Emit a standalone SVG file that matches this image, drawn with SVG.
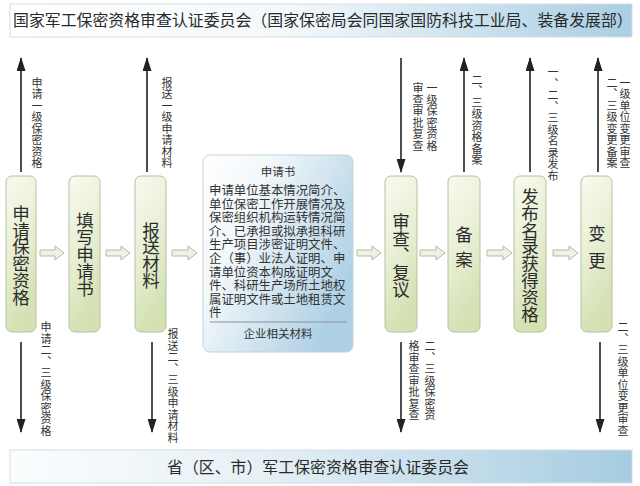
<svg xmlns="http://www.w3.org/2000/svg" width="640" height="486" viewBox="0 0 640 486">
<defs>
  <linearGradient id="gBanner" x1="0" y1="0" x2="1" y2="0">
    <stop offset="0" stop-color="#ffffff"/>
    <stop offset="0.45" stop-color="#f3f8fb"/>
    <stop offset="1" stop-color="#a9cee3"/>
  </linearGradient>
  <linearGradient id="gBanner2" x1="0" y1="0" x2="1" y2="0">
    <stop offset="0" stop-color="#fbfdfe"/>
    <stop offset="0.4" stop-color="#e6f0f5"/>
    <stop offset="1" stop-color="#a6cce1"/>
  </linearGradient>
  <linearGradient id="gBox" x1="0" y1="0" x2="0.3" y2="1">
    <stop offset="0" stop-color="#f8faf0"/>
    <stop offset="0.5" stop-color="#e9f0d6"/>
    <stop offset="1" stop-color="#d3e1b3"/>
  </linearGradient>
  <linearGradient id="gText" x1="0" y1="0" x2="1" y2="0.6">
    <stop offset="0" stop-color="#ffffff"/>
    <stop offset="0.35" stop-color="#f2f7fa"/>
    <stop offset="1" stop-color="#aed0e4"/>
  </linearGradient>
  <marker id="ah" markerUnits="userSpaceOnUse" markerWidth="14" markerHeight="9" refX="13" refY="4.5" orient="auto">
    <path d="M0,0 L14,4.5 L0,9 z" fill="#222"/>
  </marker>
  <style>
    .cn { font-family: "Noto Sans CJK SC", "Noto Sans", sans-serif; fill: #333; }
    .ban { font-size: 15.9px; fill: #2a2a2a; }
    .v { writing-mode: vertical-rl; text-orientation: upright; text-anchor: middle; }
    .big { font-size: 17.5px; letter-spacing: -0.6px; fill: #2b2b2b; }
    .lab { font-size: 11px; letter-spacing: 0.5px; fill: #333; }
    .box { fill: url(#gBox); stroke: #b6c1a0; stroke-width: 1; }
    .bar { stroke: #222; stroke-width: 1.6; fill: none; marker-end: url(#ah); }
    .blk { fill: #eef1e4; stroke: #b4bba3; stroke-width: 1; }
    .tb { font-size: 12.4px; fill: #333; }
  </style>
</defs>

<g id="top-banner">
  <rect x="10" y="4" width="622" height="33" fill="url(#gBanner)" stroke="#d6dde2" stroke-width="1"/>
  <text class="cn ban" x="13" y="26">国家军工保密资格审查认证委员会（国家保密局会同国家国防科技工业局、装备发展部）</text>
</g>

<g id="bottom-banner">
  <rect x="10" y="450" width="622" height="33" fill="url(#gBanner2)" stroke="#d6dde2" stroke-width="1"/>
  <text class="cn ban" x="318" y="473" text-anchor="middle">省（区、市）军工保密资格审查认证委员会</text>
</g>

<g id="node-apply">
  <rect class="box" x="6" y="176" width="30" height="156" rx="6"/>
  <text class="cn v big" x="21" y="255">申请保密资格</text>
</g>
<g id="node-fill">
  <rect class="box" x="69" y="176" width="31" height="156" rx="6"/>
  <text class="cn v big" x="85" y="254">填写申请书</text>
</g>
<g id="node-submit">
  <rect class="box" x="135" y="176" width="31" height="156" rx="6"/>
  <text class="cn v big" x="151" y="255">报送材料</text>
</g>
<g id="node-docs">
  <rect x="203" y="155" width="150" height="197" rx="7" fill="url(#gText)" stroke="#c4d3dc" stroke-width="1"/>
  <text class="cn" x="278" y="176" text-anchor="middle" font-size="11.5">申请书</text>
  <text class="cn tb" x="209">
    <tspan x="209" y="195">申请单位基本情况简介、</tspan>
    <tspan x="209" y="208.6">单位保密工作开展情况及</tspan>
    <tspan x="209" y="222.2">保密组织机构运转情况简</tspan>
    <tspan x="209" y="235.8">介、已承担或拟承担科研</tspan>
    <tspan x="209" y="249.4">生产项目涉密证明文件、</tspan>
    <tspan x="209" y="263">企（事）业法人证明、申</tspan>
    <tspan x="209" y="276.6">请单位资本构成证明文</tspan>
    <tspan x="209" y="290.2">件、科研生产场所土地权</tspan>
    <tspan x="209" y="303.8">属证明文件或土地租赁文</tspan>
    <tspan x="209" y="317.4">件</tspan>
  </text>
  <line x1="210" y1="322" x2="347" y2="322" stroke="#8a9096" stroke-width="1"/>
  <text class="cn" x="278" y="338" text-anchor="middle" font-size="11.5">企业相关材料</text>
</g>
<g id="node-review">
  <rect class="box" x="385" y="176" width="32" height="156" rx="6"/>
  <text class="cn v big" x="401" y="255">审查、复议</text>
</g>
<g id="node-record">
  <rect class="box" x="448" y="176" width="32" height="156" rx="6"/>
  <text class="cn v big" x="464" y="251" style="letter-spacing:8px">备案</text>
</g>
<g id="node-publish">
  <rect class="box" x="514" y="176" width="32" height="156" rx="6"/>
  <text class="cn v big" x="530" y="255">发布名录获得资格</text>
</g>
<g id="node-change">
  <rect class="box" x="581" y="176" width="31" height="156" rx="6"/>
  <text class="cn v big" x="597" y="252" style="letter-spacing:10px">变更</text>
</g>

<g id="connectors">
  <path class="blk" d="M40,250 L55,250 L55,246 L64,253 L55,260 L55,256 L40,256 z"/>
  <path class="blk" d="M106,250 L121,250 L121,246 L130,253 L121,260 L121,256 L106,256 z"/>
  <path class="blk" d="M172,250 L188,250 L188,246 L197,253 L188,260 L188,256 L172,256 z"/>
  <path class="blk" d="M357,250 L372,250 L372,246 L381,253 L372,260 L372,256 L357,256 z"/>
  <path class="blk" d="M420,250 L436,250 L436,246 L445,253 L436,260 L436,256 L420,256 z"/>
  <path class="blk" d="M487,250 L503,250 L503,246 L512,253 L503,260 L503,256 L487,256 z"/>
  <path class="blk" d="M553,250 L569,250 L569,246 L578,253 L569,260 L569,256 L553,256 z"/>

  <line class="bar" x1="21" y1="172" x2="21" y2="58"/>
  <line class="bar" x1="147" y1="172" x2="147" y2="58"/>
  <line class="bar" x1="401" y1="58" x2="401" y2="172"/>
  <line class="bar" x1="464" y1="172" x2="464" y2="58"/>
  <line class="bar" x1="530" y1="172" x2="530" y2="58"/>
  <line class="bar" x1="598" y1="172" x2="598" y2="58"/>

  <line class="bar" x1="21" y1="342" x2="21" y2="432"/>
  <line class="bar" x1="152" y1="342" x2="152" y2="432"/>
  <line class="bar" x1="401" y1="342" x2="401" y2="432"/>
  <line class="bar" x1="600" y1="342" x2="600" y2="432"/>

  <text class="cn v lab" x="37" y="123">申请一级保密资格</text>
  <text class="cn v lab" x="167" y="123">报送一级申请材料</text>
  <text class="cn v lab" x="46" y="379">申请二、三级保密资格</text>
  <text class="cn v lab" x="173" y="386">报送二、三级申请材料</text>
  <text class="cn v lab" x="432" y="117">一级保密资格</text>
  <text class="cn v lab" x="418" y="117">审查审批复查</text>
  <text class="cn v lab" x="477" y="120">二、三级资格备案</text>
  <text class="cn v lab" x="553" y="124">一、二、三级名录发布</text>
  <text class="cn v lab" x="625" y="123">一级单位变更审查</text>
  <text class="cn v lab" x="612" y="123">二、三级变更备案</text>
  <text class="cn v lab" x="430" y="381">二、三级保密资</text>
  <text class="cn v lab" x="414" y="381">格审查审批复查</text>
  <text class="cn v lab" x="623" y="379">二、三级单位变更审查</text>
</g>
</svg>
